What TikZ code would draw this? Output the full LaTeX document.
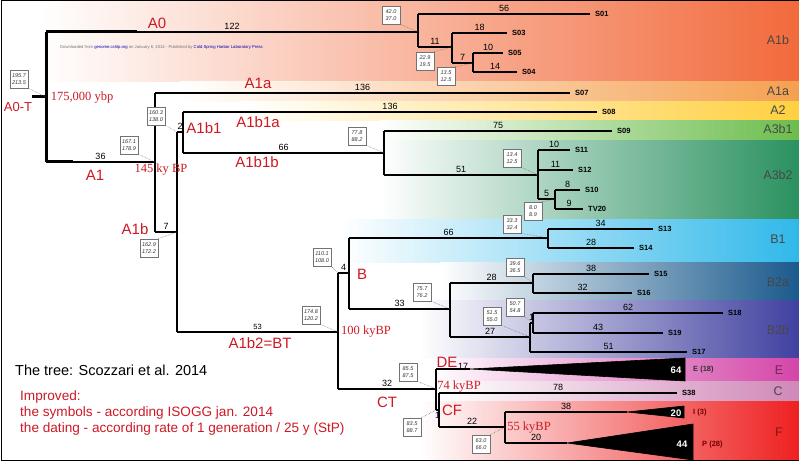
\documentclass[tikz,border=0pt]{standalone}
\usepackage{fontspec}
\setmainfont{Liberation Sans}
\newfontfamily\timesfont{Liberation Serif}
\usepackage{xcolor}

\definecolor{lblred}{RGB}{205,25,35}
\definecolor{bA1b}{RGB}{242,106,60}
\definecolor{bA1a}{RGB}{245,160,80}
\definecolor{bA2}{RGB}{255,208,64}
\definecolor{bA3b1}{RGB}{108,189,76}
\definecolor{bA3b2}{RGB}{42,145,96}
\definecolor{bB1}{RGB}{48,184,234}
\definecolor{bB2a}{RGB}{26,90,140}
\definecolor{bB2b}{RGB}{64,64,160}
\definecolor{bE}{RGB}{212,69,168}
\definecolor{bC}{RGB}{208,136,184}
\definecolor{bF}{RGB}{238,32,32}

\begin{document}
\begin{tikzpicture}[x=1pt,y=-1pt,
    br/.style={line width=1.3pt},
    heavy/.style={line width=2.2pt},
    rootbr/.style={line width=3pt},
    num/.style={font=\fontsize{9}{10}\selectfont, above, inner sep=1.5pt},
    tip/.style={font=\fontsize{7.5}{8}\selectfont\bfseries, anchor=west, inner sep=0pt, xshift=5pt},
    clade/.style={font=\fontsize{15}{17}\selectfont, text=lblred, inner sep=0pt},
    date/.style={font=\timesfont\fontsize{12.5}{14}\selectfont, text=lblred, inner sep=0pt},
    agebox/.style={draw=black!55, fill=white, line width=0.5pt, inner sep=1pt, align=center,
      font=\fontsize{5.5}{6.5}\selectfont\itshape, text=black!80, minimum width=18pt, minimum height=18pt},
    lead/.style={densely dotted, black!60, line width=0.5pt},
    bandlbl/.style={font=\fontsize{12.5}{14}\selectfont, text=black!72, inner sep=0pt},
    wedge/.style={fill=black, draw=black, line width=0.6pt},
  ]
  \useasboundingbox (0,0) rectangle (799,462);

  % colour bands
  \shade[left color=white, right color=bA1b] (40,0) rectangle (799,82);
  \shade[left color=white, right color=bA1a] (180,82) rectangle (799,102);
  \shade[left color=white, right color=bA2] (240,102) rectangle (799,121);
  \shade[left color=white, right color=bA3b1] (380,121) rectangle (799,141);
  \shade[left color=white, right color=bA3b2] (380,141) rectangle (799,219);
  \shade[left color=white, right color=bB1] (340,219) rectangle (799,262);
  \shade[left color=white, right color=bB2a] (440,262) rectangle (799,300);
  \shade[left color=white, right color=bB2b] (420,300) rectangle (799,358);
  \shade[left color=white, right color=bE] (430,358) rectangle (799,381);
  \shade[left color=white, right color=bC] (440,381) rectangle (799,401);
  \shade[left color=white, right color=bF] (420,401) rectangle (799,460);

  % frame
  \draw[line width=1pt] (1,460) -- (1,1) -- (799,1);
  \draw[line width=1pt] (1,460) -- (799,460);

  \node[anchor=west, inner sep=0pt, font=\fontsize{4.2}{5}\selectfont, text=black!55] (dl) at (60,47)
    {Downloaded from \textcolor{blue!70!black}{genome.cshlp.org} on January 6, 2014 - Published by \textcolor{blue!70!black}{Cold Spring Harbor Laboratory Press}};

  % tree points
  \coordinate (stem) at (32,97);
  \coordinate (root) at (46,97);
  \coordinate (A0k) at (137,32);
  \coordinate (A1k) at (73,162);
  \coordinate (nA0) at (418,32);
  \coordinate (tS01) at (590,14);
  \coordinate (n11) at (452,47);
  \coordinate (tS03) at (507,33);
  \coordinate (n7) at (473,63);
  \coordinate (tS05) at (503,53);
  \coordinate (tS04) at (517,72);
  \coordinate (nA1) at (155,162);
  \coordinate (tS07) at (570,93);
  \coordinate (nA1b) at (177,232);
  \coordinate (nA1b1) at (183,132);
  \coordinate (tS08) at (597,112);
  \coordinate (nA3) at (384,153);
  \coordinate (tS09) at (612,131);
  \coordinate (nA3b2) at (538,175);
  \coordinate (tS11) at (570,150);
  \coordinate (tS12) at (573,170);
  \coordinate (n5) at (555,199);
  \coordinate (tS10) at (580,190);
  \coordinate (tTV20) at (583,209);
  \coordinate (nBT) at (338,332);
  \coordinate (nB) at (349,273);
  \coordinate (nB1) at (548,238);
  \coordinate (tS13) at (653,229);
  \coordinate (tS14) at (634,248);
  \coordinate (nB2) at (450,309);
  \coordinate (nB2a) at (533,283);
  \coordinate (tS15) at (649,274);
  \coordinate (tS16) at (632,293);
  \coordinate (nB2b) at (530,337);
  \coordinate (n1) at (533,323);
  \coordinate (tS18) at (723,313);
  \coordinate (tS19) at (663,333);
  \coordinate (tS17) at (687,352);
  \coordinate (nCT) at (436,389);
  \coordinate (nCF) at (439,410);
  \coordinate (tS38) at (677,393);
  \coordinate (nF) at (505,427);
  \coordinate (aE) at (470,369);
  \coordinate (eT) at (685,358);
  \coordinate (eB) at (685,381);
  \coordinate (aI) at (627,412);
  \coordinate (iT) at (684,406);
  \coordinate (iB) at (684,418);
  \coordinate (aP) at (567,443);
  \coordinate (pT) at (693,424);
  \coordinate (pB) at (693,460);

  % branches
  \draw[rootbr] (stem) -- (root);
  \draw[rootbr] (root |- nA0) -- (root |- nA1);
  \draw[rootbr] (root |- nA0) -- (A0k);
  \draw[rootbr] (root |- nA1) -- (A1k);
  \draw[br] (root |- nA0) -- node[num] {122} (nA0);
  \draw[br] (nA0 |- tS01) -- (nA0 |- n11);
  \draw[br] (nA0 |- tS01) -- node[num] {56} (tS01);
  \draw[br] (nA0 |- n11) -- node[num] {11} (n11);
  \draw[heavy] (n11 |- tS03) -- (n11 |- n7);
  \draw[heavy] (n11 |- tS03) -- node[num] {18} (tS03);
  \draw[heavy] (n11 |- n7) -- node[num] {7} (n7);
  \draw[heavy] (n7 |- tS05) -- (n7 |- tS04);
  \draw[br] (n7 |- tS05) -- node[num] {10} (tS05);
  \draw[heavy] (n7 |- tS04) -- node[num] {14} (tS04);

  \draw[br] (root |- nA1) -- node[num] {36} (nA1);
  \draw[br] (nA1 |- tS07) -- (nA1 |- nA1b);
  \draw[br] (nA1 |- tS07) -- node[num] {136} (tS07);
  \draw[br] (nA1 |- nA1b) -- node[num] {7} (nA1b);
  \draw[heavy] (nA1b |- nA1b1) -- (nA1b |- nBT);
  \draw[br] (nA1b |- nA1b1) -- node[num] {2} (nA1b1);
  \draw[br] (nA1b1 |- tS08) -- (nA1b1 |- nA3);
  \draw[heavy] (nA1b1 |- tS08) -- node[num] {136} (tS08);
  \draw[br] (nA1b1 |- nA3) -- node[num] {66} (nA3);
  \draw[br] (nA3 |- tS09) -- (nA3 |- nA3b2);
  \draw[br] (nA3 |- tS09) -- node[num] {75} (tS09);
  \draw[br] (nA3 |- nA3b2) -- node[num] {51} (nA3b2);
  \draw[heavy] (nA3b2 |- tS11) -- (nA3b2 |- n5);
  \draw[heavy] (nA3b2 |- tS11) -- node[num] {10} (tS11);
  \draw[br] (nA3b2 |- tS12) -- node[num] {11} (tS12);
  \draw[br] (nA3b2 |- n5) -- node[num] {5} (n5);
  \draw[heavy] (n5 |- tS10) -- (n5 |- tTV20);
  \draw[heavy] (n5 |- tS10) -- node[num] {8} (tS10);
  \draw[br] (n5 |- tTV20) -- node[num] {9} (tTV20);

  \draw[br] (nA1b |- nBT) -- node[num, font=\fontsize{7.5}{8}\selectfont] {53} (nBT);
  \draw[heavy] (nBT |- nB) -- (nBT |- nCT);
  \draw[br] (nBT |- nB) -- node[num] {4} (nB);
  \draw[br] (nB |- nB1) -- (nB |- nB2);
  \draw[br] (nB |- nB1) -- node[num] {66} (nB1);
  \draw[br] (nB |- nB2) -- node[num] {33} (nB2);
  \draw[br] (nB1 |- tS13) -- (nB1 |- tS14);
  \draw[heavy] (nB1 |- tS13) -- node[num] {34} (tS13);
  \draw[br] (nB1 |- tS14) -- node[num] {28} (tS14);
  \draw[br] (nB2 |- nB2a) -- (nB2 |- nB2b);
  \draw[br] (nB2 |- nB2a) -- node[num] {28} (nB2a);
  \draw[br] (nB2 |- nB2b) -- node[num] {27} (nB2b);
  \draw[heavy] (nB2a |- tS15) -- (nB2a |- tS16);
  \draw[br] (nB2a |- tS15) -- node[num] {38} (tS15);
  \draw[heavy] (nB2a |- tS16) -- node[num] {32} (tS16);
  \draw[br] (nB2b |- n1) -- (nB2b |- tS17);
  \draw[br] (nB2b |- n1) -- node[num] {1} (n1);
  \draw[br] (nB2b |- tS17) -- node[num] {51} (tS17);
  \draw[br] (n1 |- tS18) -- (n1 |- tS19);
  \draw[br] (n1 |- tS18) -- node[num] {62} (tS18);
  \draw[br] (n1 |- tS19) -- node[num] {43} (tS19);

  \draw[br] (nBT |- nCT) -- node[num] {32} (nCT);
  \draw[br] (nCT |- aE) -- (nCT |- nCF);
  \draw[br] (nCT |- aE) -- (aE);
  \draw[wedge] (aE) -- (eT) -- (eB) -- cycle;
  \draw[heavy] (nCT |- nCF) -- node[num, below, text=blue!40!black] {1} (nCF);
  \draw[br] (nCF |- tS38) -- (nCF |- nF);
  \draw[br] (nCF |- tS38) -- node[num] {78} (tS38);
  \draw[br] (nCF |- nF) -- node[num] {22} (nF);
  \draw[br] (nF |- aI) -- (nF |- aP);
  \draw[br] (nF |- aI) -- node[num] {38} (aI);
  \draw[wedge] (aI) -- (iT) -- (iB) -- cycle;
  \draw[br] (nF |- aP) -- node[num] {20} (aP);
  \draw[wedge] (aP) -- (pT) -- (pB) -- cycle;

  % tips
  \node[tip] (S01) at (tS01) {S01};
  \node[tip] (S03) at (tS03) {S03};
  \node[tip] (S05) at (tS05) {S05};
  \node[tip] (S04) at (tS04) {S04};
  \node[tip] (S07) at (tS07) {S07};
  \node[tip] (S08) at (tS08) {S08};
  \node[tip] (S09) at (tS09) {S09};
  \node[tip] (S11) at (tS11) {S11};
  \node[tip] (S12) at (tS12) {S12};
  \node[tip] (S10) at (tS10) {S10};
  \node[tip] (TV20) at (tTV20) {TV20};
  \node[tip] (S13) at (tS13) {S13};
  \node[tip] (S14) at (tS14) {S14};
  \node[tip] (S15) at (tS15) {S15};
  \node[tip] (S16) at (tS16) {S16};
  \node[tip] (S18) at (tS18) {S18};
  \node[tip] (S19) at (tS19) {S19};
  \node[tip] (S17) at (tS17) {S17};
  \node[tip] (S38) at (tS38) {S38};
  \node[font=\fontsize{9.5}{10}\selectfont\bfseries, text=white] (n64) at (676,370) {64};
  \node[tip, xshift=0pt, text=black!80] (E18) at (688,370) {E (18)};
  \node[font=\fontsize{9.5}{10}\selectfont\bfseries, text=white] (n20) at (676,413) {20};
  \node[tip, xshift=0pt, text=red!45!black] (I3) at (688,413) {I (3)};
  \node[font=\fontsize{9.5}{10}\selectfont\bfseries, text=white] (n44) at (682,444) {44};
  \node[tip, xshift=0pt, text=red!45!black] (P28) at (697,445) {P (28)};

  % age boxes
  \node[agebox] (d1) at (19,79) {195.7\\213.5};
  \node[agebox] (d2) at (391,15) {42.0\\37.0};
  \node[agebox] (d3) at (425,61) {22.9\\19.5};
  \node[agebox] (d4) at (446,76) {13.5\\12.5};
  \node[agebox] (d5) at (156,116) {160.3\\138.0};
  \node[agebox] (d6) at (129,145) {167.1\\178.9};
  \node[agebox] (d7) at (149,248) {162.9\\172.2};
  \node[agebox] (d8) at (357,136) {77.8\\88.2};
  \node[agebox] (d9) at (512,158) {13.4\\12.5};
  \node[agebox] (d10) at (533,211) {8.0\\8.9};
  \node[agebox] (d11) at (512,224) {33.3\\32.4};
  \node[agebox] (d12) at (322,257) {110.1\\108.0};
  \node[agebox] (d13) at (515,267) {39.6\\36.5};
  \node[agebox] (d14) at (422,292) {75.7\\76.2};
  \node[agebox] (d15) at (515,307) {50.7\\54.8};
  \node[agebox] (d16) at (492,316) {51.5\\55.0};
  \node[agebox] (d17) at (311,315) {174.8\\120.2};
  \node[agebox] (d18) at (408,372) {85.5\\87.5};
  \node[agebox] (d19) at (412,427) {83.5\\88.7};
  \node[agebox] (d20) at (481,444) {63.0\\66.0};
  \draw[lead] (d1.south east) -- (root);
  \draw[lead] (d2.south east) -- (nA0);
  \draw[lead] (d3.north east) -- (n11);
  \draw[lead] (d4.north east) -- (n7);
  \draw[lead] (d5.south east) -- (nA1b |- nA1b1);
  \draw[lead] (d6.south east) -- (nA1);
  \draw[lead] (d7.north east) -- (nA1b);
  \draw[lead] (d8.south east) -- (nA3);
  \draw[lead] (d9.south east) -- (nA3b2);
  \draw[lead] (d10.north east) -- (n5);
  \draw[lead] (d11.south east) -- (nB1);
  \draw[lead] (d12.south east) -- (nBT |- nB);
  \draw[lead] (d13.south east) -- (nB2a);
  \draw[lead] (d14.south east) -- (nB2);
  \draw[lead] (d15.south east) -- (n1);
  \draw[lead] (d16.south east) -- (nB2b);
  \draw[lead] (d17.south east) -- (nBT);
  \draw[lead] (d18.south east) -- (nCT);
  \draw[lead] (d19.north east) -- (nCT |- nCF);
  \draw[lead] (d20.north east) -- (nF);

  % clade names and dates
  \node[clade] (A0) at (157,23) {A0};
  \node[clade, font=\fontsize{13}{15}\selectfont] (A0T) at (18,107) {A0-T};
  \node[date] (y175) at (82,98) {175,000 ybp};
  \node[clade] (A1a) at (258,83) {A1a};
  \node[clade] (A1b1) at (204,128) {A1b1};
  \node[clade] (A1b1a) at (258,122) {A1b1a};
  \node[clade] (A1b1b) at (257,162) {A1b1b};
  \node[clade] (A1) at (95,175) {A1};
  \node[date] (y145) at (161,170) {145 ky BP};
  \node[clade] (A1b) at (135,229) {A1b};
  \node[clade] (B) at (362,274) {B};
  \node[clade] (BT) at (260,343) {A1b2=BT};
  \node[date] (y100) at (366,332) {100 kyBP};
  \node[clade] (CT) at (387,402) {CT};
  \node[clade] (DE) at (447,362) {DE};
  \node[font=\fontsize{9}{10}\selectfont] (DE17) at (463,366) {17};
  \node[date] (y74) at (459,387) {74 kyBP};
  \node[clade] (CF) at (452,410) {CF};
  \node[date] (y55) at (529,428) {55 kyBP};

  % band names
  \node[bandlbl] (LA1b) at (778,40) {A1b};
  \node[bandlbl] (LA1a) at (778,91) {A1a};
  \node[bandlbl] (LA2) at (778,110) {A2};
  \node[bandlbl] (LA3b1) at (778,129) {A3b1};
  \node[bandlbl] (LA3b2) at (778,175) {A3b2};
  \node[bandlbl] (LB1) at (778,239) {B1};
  \node[bandlbl] (LB2a) at (778,282) {B2a};
  \node[bandlbl] (LB2b) at (778,330) {B2b};
  \node[bandlbl, text=bE!55!black] (LE) at (779,370) {E};
  \node[bandlbl] (LC) at (778,391) {C};
  \node[bandlbl, text=bF!60!black] (LF) at (779,432) {F};

  % notes
  \node[anchor=west, inner sep=0pt, font=\fontsize{14.5}{16}\selectfont] (ref) at (15,370) {The tree: Scozzari et al. 2014};
  \node[anchor=west, inner sep=0pt, font=\fontsize{13.6}{16}\selectfont, text=lblred] (imp) at (20,397) {Improved:};
  \node[anchor=west, inner sep=0pt, font=\fontsize{13.6}{16}\selectfont, text=lblred] (sym) at (20,413) {the symbols - according ISOGG jan. 2014};
  \node[anchor=west, inner sep=0pt, font=\fontsize{13.6}{16}\selectfont, text=lblred] (dat) at (20,429) {the dating - according rate of 1 generation / 25 y (StP)};
\end{tikzpicture}
\end{document}
